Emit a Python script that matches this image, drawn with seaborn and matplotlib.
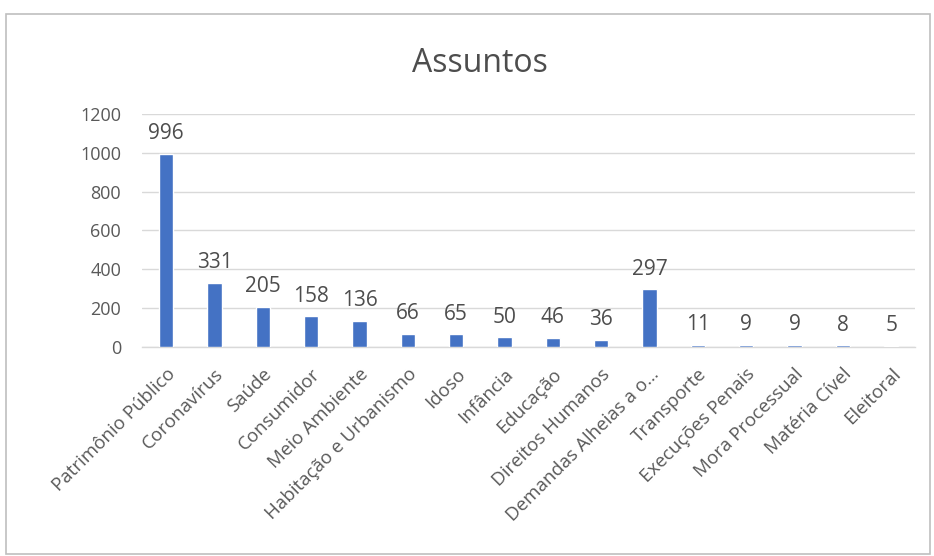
import matplotlib
matplotlib.use("Agg")
import matplotlib.pyplot as plt
import matplotlib.patches as mpatches
import seaborn as sns
import pandas as pd

categorias = [
    "Patrimônio Público", "Coronavírus", "Saúde", "Consumidor", "Meio Ambiente",
    "Habitação e Urbanismo", "Idoso", "Infância", "Educação", "Direitos Humanos",
    "Demandas Alheias a o…", "Transporte", "Execuções Penais", "Mora Processual",
    "Matéria Cível", "Eleitoral",
]
quantidades = [996, 331, 205, 158, 136, 66, 65, 50, 46, 36, 297, 11, 9, 9, 8, 5]
marcas_y = [0, 200, 400, 600, 800, 1000, 1200]

sns.set_theme(style="white")
plt.rcParams["font.family"] = ["Open Sans", "DejaVu Sans"]

texto = "#595959"
grade = "#d9d9d9"

fig = plt.figure(figsize=(9.34, 5.56), dpi=100)
fig.patch.set_facecolor("white")

# moldura do gráfico
fig.patches.append(mpatches.Rectangle((0.006, 0.004), 0.99, 0.97, transform=fig.transFigure,
                                      fill=False, edgecolor="#bfbfbf", linewidth=1.2))

ax = fig.add_axes([0.152, 0.376, 0.828, 0.419])
df = pd.DataFrame({"assunto": categorias, "qtd": quantidades})
sns.barplot(data=df, x="assunto", y="qtd", color="#4472C4", width=0.3,
            saturation=1, ax=ax, zorder=3)

ax.set_ylim(0, 1200)
ax.set_yticks(marcas_y)
ax.set_xlim(-0.5, len(categorias) - 0.5)
ax.yaxis.grid(True, color=grade, linewidth=1, zorder=0)
ax.set_axisbelow(True)
for lado in ["top", "right", "left"]:
    ax.spines[lado].set_visible(False)
ax.spines["bottom"].set_color(grade)
ax.spines["bottom"].set_linewidth(1)
ax.tick_params(axis="both", length=0, colors=texto)
ax.tick_params(axis="y", labelsize=13, pad=15)
ax.set_xlabel("")
ax.set_ylabel("")
ax.set_xticks(range(len(categorias)))
ax.set_xticklabels(categorias, rotation=45, ha="right", rotation_mode="anchor",
                   fontsize=13.5, color=texto)
ax.tick_params(axis="x", pad=13)

for i, v in enumerate(quantidades):
    ax.annotate(str(v), (i, v), xytext=(0, 7), textcoords="offset points",
                ha="center", va="bottom", fontsize=15, color="#4d4d4d")

fig.text(0.514, 0.885, "Assuntos", ha="center", va="center", fontsize=23, color="#4d4d4d")

fig.savefig("out.png", dpi=100, facecolor="white")
